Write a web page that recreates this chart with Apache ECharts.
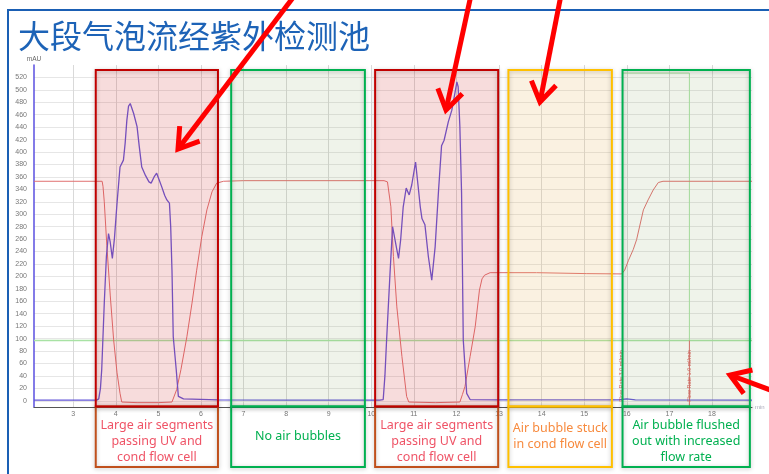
<!DOCTYPE html>
<html>
<head>
<meta charset="utf-8">
<title>大段气泡流经紫外检测池</title>
<script src="https://cdn.jsdelivr.net/npm/echarts@6/dist/echarts.min.js"></script>
<style>
  html, body { margin: 0; padding: 0; background: #fff; }
  #chart { width: 769px; height: 474px; }
</style>
</head>
<body>
<div id="chart"></div>
<script>
// Run time in minutes, UV absorbance in mAU
const xTicks = [3, 4, 5, 6, 7, 8, 9, 10, 11, 12, 13, 14, 15, 16, 17, 18];
const yTicks = [0, 20, 40, 60, 80, 100, 120, 140, 160, 180, 200, 220, 240, 260, 280, 300,
                320, 340, 360, 380, 400, 420, 440, 460, 480, 500, 520];

// UV trace
const uvTrace = [
  [2.08, 1], [3.55, 1], [3.60, 3], [3.64, 20], [3.67, 50], [3.73, 157], [3.78, 232], [3.83, 269],
  [3.87, 255], [3.92, 229], [3.97, 262], [4.03, 318], [4.10, 376], [4.18, 387], [4.22, 414],
  [4.26, 451], [4.30, 474], [4.34, 478], [4.38, 476], [4.42, 462], [4.50, 441], [4.55, 410],
  [4.61, 376], [4.70, 362], [4.78, 352], [4.83, 350], [4.90, 360], [4.96, 366], [5.02, 355],
  [5.08, 344], [5.15, 330], [5.20, 323], [5.26, 318], [5.29, 280], [5.32, 210], [5.35, 103],
  [5.42, 50], [5.47, 7], [5.59, 3], [6.40, 1.6], [8.00, 1.2], [10.20, 1], [10.28, 2],
  [10.32, 40], [10.36, 98], [10.44, 205], [10.50, 280], [10.53, 279], [10.60, 243], [10.64, 229],
  [10.69, 259], [10.75, 312], [10.82, 342], [10.89, 331], [10.95, 347], [11.04, 384],
  [11.10, 345], [11.15, 312], [11.19, 293], [11.26, 283], [11.34, 232], [11.42, 194],
  [11.50, 248], [11.58, 339], [11.65, 410], [11.71, 419], [11.81, 449], [11.89, 467],
  [11.97, 497], [12.01, 513], [12.04, 505], [12.08, 441], [12.12, 334], [12.16, 98],
  [12.24, 12], [12.32, 2], [13.00, 1.5], [15.80, 1.5], [16.00, 3], [16.20, 1.5], [18.94, 1.2]
];

// Conductivity trace
const condTrace = [
  [2.08, 353], [3.68, 353], [3.70, 345], [3.73, 320], [3.79, 250], [3.87, 170], [3.95, 98],
  [4.03, 45], [4.10, 12], [4.14, -2], [4.50, -3], [5.00, -3], [5.32, -2], [5.43, 18],
  [5.53, 50], [5.67, 103], [5.79, 157], [5.90, 210], [6.02, 264], [6.14, 307], [6.26, 336],
  [6.37, 350], [6.53, 353], [7.00, 354], [10.30, 354], [10.38, 352], [10.46, 312],
  [10.52, 232], [10.60, 151], [10.72, 71], [10.83, 7], [10.88, -2], [11.50, -3], [12.08, -2],
  [12.14, 10], [12.20, 23], [12.32, 71], [12.44, 119], [12.54, 178], [12.60, 196],
  [12.66, 202], [12.79, 206], [13.88, 206], [15.06, 204.5], [15.88, 204], [15.95, 210],
  [16.04, 226], [16.15, 243], [16.23, 259], [16.39, 307], [16.50, 323], [16.62, 339],
  [16.74, 351], [16.85, 353], [18.94, 353]
];

// Flow traces
const flowBase = [[2.08, 97], [18.94, 97]];
const flowStep = [[15.9, 97], [15.9, 527], [17.47, 527], [17.47, 97]];

// Flow-rate event marks
const flowMarkX = [15.87, 17.47];
const flowMarkText = ['Flow Rate 3.0 ml/min', 'Flow Rate 1.0 ml/min'];

// Annotated time windows
const regionStart = [3.53, 6.71, 10.09, 13.22, 15.90];
const regionEnd = [6.40, 9.85, 12.98, 15.65, 18.89];
const regionKind = ['air', 'clear', 'air', 'stuck', 'clear'];
const regionText = [
  'Large air segments\npassing UV and\ncond flow cell',
  'No air bubbles',
  'Large air segments\npassing UV and\ncond flow cell',
  'Air bubble stuck\nin cond flow cell',
  'Air bubble flushed\nout with increased\nflow rate'
];

const X_MIN = 2.08, X_MAX = 18.94, Y_MIN = -10, Y_MAX = 540;
const REGION_TOP = 532, REGION_BOTTOM = -9;

const kindStyle = {
  air:   { fill: 'rgba(205,45,45,0.17)',  stroke: '#c00000', labelStroke: '#c0501c', text: '#ef5366' },
  clear: { fill: 'rgba(120,160,80,0.12)', stroke: '#00b050', labelStroke: '#00b050', text: '#00b050' },
  stuck: { fill: 'rgba(230,180,90,0.18)', stroke: '#ffc000', labelStroke: '#ffc000', text: '#f78a3e' }
};

const chart = echarts.init(document.getElementById('chart'), null, { renderer: 'canvas' });

const lineSeries = (data, color, width, z) => ({
  type: 'line', data, showSymbol: false, symbol: 'none', smooth: false, z,
  lineStyle: { color, width }, emphasis: { disabled: true }, silent: true
});

chart.setOption({
  animation: false,
  backgroundColor: '#ffffff',
  grid: { left: 34, right: 17, top: 65, bottom: 67 },
  xAxis: {
    type: 'value', min: X_MIN, max: X_MAX,
    name: 'min', nameLocation: 'end', nameGap: 3,
    nameTextStyle: { fontSize: 6, color: '#aab' },
    axisLine: { onZero: false, lineStyle: { color: '#555', width: 1 } },
    axisTick: { show: false, customValues: xTicks },
    axisLabel: { customValues: xTicks, fontSize: 7, color: '#777', margin: 4 },
    splitLine: { show: true, lineStyle: { color: '#d9d9d9', width: 1 } }
  },
  yAxis: {
    type: 'value', min: Y_MIN, max: Y_MAX,
    name: 'mAU', nameLocation: 'end', nameGap: 2,
    nameTextStyle: { fontSize: 6.5, color: '#666', align: 'center' },
    axisLine: { show: true, onZero: false, lineStyle: { color: '#5a4fe0', width: 1.5 } },
    axisTick: { show: false, customValues: yTicks },
    axisLabel: { customValues: yTicks, fontSize: 7, color: '#777', margin: 7 },
    splitLine: { show: true, lineStyle: { color: '#e6e6e6', width: 1 } }
  },
  series: [
    lineSeries(flowBase, '#a8e2a4', 1.5, 2),
    lineSeries(flowStep, '#a8e2a4', 1, 2),
    lineSeries([[flowMarkX[1], 97], [flowMarkX[1], Y_MIN]], '#d86a6a', 1, 3),
    lineSeries(condTrace, '#e07070', 1, 4),
    lineSeries(uvTrace, '#6356d8', 1.3, 5)
  ]
});

const toPx = (x, y) => chart.convertToPixel({ xAxisIndex: 0, yAxisIndex: 0 }, [x, y]);
const LABEL_BOX_BOTTOM = 467;

const graphics = [];

// slide frame and heading
graphics.push({
  type: 'polyline', z: 50, silent: true,
  shape: { points: [[8, 480], [8, 10], [775, 10]] },
  style: { stroke: '#1a5fb4', lineWidth: 2, fill: null }
});
graphics.push({
  type: 'text', z: 50, silent: true,
  style: {
    text: '大段气泡流经紫外检测池', x: 18, y: 36,
    fill: '#1d63b7', font: '32px "Noto Sans CJK SC"', verticalAlign: 'middle', align: 'left'
  }
});

// flow-rate event labels
flowMarkX.forEach((fx, i) => {
  const [mx] = toPx(fx, 0);
  const [, my] = toPx(0, 40);
  graphics.push({
    type: 'text', z: 60, silent: true, x: mx, y: my, rotation: Math.PI / 2,
    style: { text: flowMarkText[i], x: 0, y: 0, fill: '#d85a5a', font: '5.5px "Liberation Sans"', align: 'center', verticalAlign: 'middle' }
  });
});

// annotated windows with their captions
regionStart.forEach((x0v, i) => {
  const st = kindStyle[regionKind[i]];
  const [x0, yT] = toPx(x0v, REGION_TOP);
  const [x1, yB] = toPx(regionEnd[i], REGION_BOTTOM);
  const w = x1 - x0;
  graphics.push({
    type: 'rect', z: 100, silent: true,
    shape: { x: x0, y: yT, width: w, height: yB - yT },
    style: { fill: st.fill, stroke: null }
  });
  graphics.push({
    type: 'rect', z: 101, silent: true,
    shape: { x: x0, y: yB, width: w, height: LABEL_BOX_BOTTOM - yB },
    style: { fill: null, stroke: st.labelStroke, lineWidth: 2, shadowBlur: 4, shadowColor: 'rgba(0,0,0,0.25)', shadowOffsetY: 1 }
  });
  graphics.push({
    type: 'rect', z: 102, silent: true,
    shape: { x: x0, y: yT, width: w, height: yB - yT },
    style: { fill: null, stroke: st.stroke, lineWidth: 2, shadowBlur: 4, shadowColor: 'rgba(0,0,0,0.25)', shadowOffsetY: 1 }
  });
  const lines = regionText[i].split('\n').length;
  const cy = (yB + LABEL_BOX_BOTTOM) / 2 + (lines === 3 ? 5 : 0);
  graphics.push({
    type: 'text', z: 103, silent: true,
    style: {
      text: regionText[i], x: x0 + w / 2, y: cy,
      fill: st.text, font: '12.5px "Noto Sans"', lineHeight: 16,
      align: 'center', verticalAlign: 'middle'
    }
  });
});

// red call-out arrows
function arrow(tail, tip) {
  const dx = tail[0] - tip[0], dy = tail[1] - tip[1];
  const len = Math.hypot(dx, dy);
  const ux = dx / len, uy = dy / len;
  const a = 33 * Math.PI / 180, L = 23;
  const rot = (s) => [tip[0] + L * (ux * Math.cos(s) - uy * Math.sin(s)), tip[1] + L * (ux * Math.sin(s) + uy * Math.cos(s))];
  return [
    { type: 'polyline', z: 200, silent: true, shape: { points: [tail, tip] },
      style: { stroke: '#ff0000', lineWidth: 5, fill: null, lineCap: 'butt' } },
    { type: 'polyline', z: 200, silent: true, shape: { points: [rot(a), tip, rot(-a)] },
      style: { stroke: '#ff0000', lineWidth: 5, fill: null, lineJoin: 'miter', miterLimit: 10, lineCap: 'butt' } }
  ];
}
graphics.push(...arrow([295, -5], [178, 149]));
graphics.push(...arrow([471, -5], [446, 110]));
graphics.push(...arrow([561, -5], [540, 102]));
graphics.push(...arrow([792, 398], [730, 375]));

chart.setOption({ graphic: graphics });
</script>
</body>
</html>
